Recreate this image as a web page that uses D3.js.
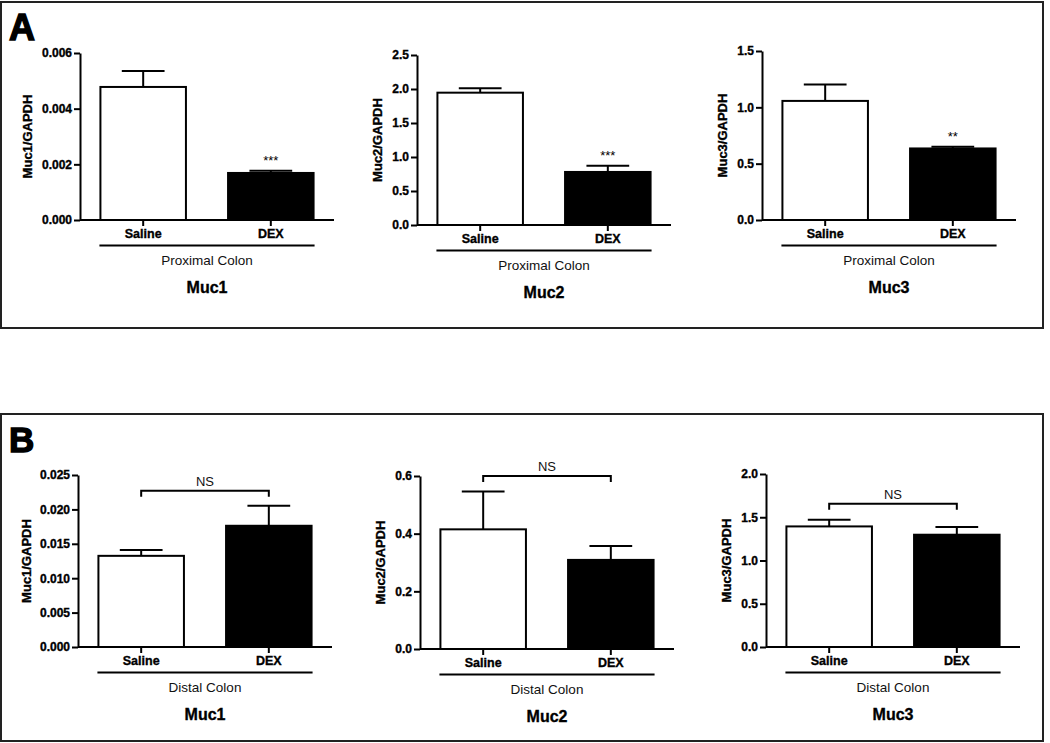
<!DOCTYPE html>
<html>
<head>
<meta charset="utf-8">
<script src="https://cdn.jsdelivr.net/npm/d3@7"></script>
<style>
  body { margin: 0; background: #fff; }
  svg { font-family: "Liberation Sans", Arial, sans-serif; }
</style>
</head>
<body>
<svg id="fig" width="1050" height="743"></svg>
<script>
// Data
const groups = ["Saline", "DEX"];
const genes = ["Muc1", "Muc2", "Muc3"];

const proximalMeans = [[0.00478, 0.00169], [1.946, 0.78], [1.057, 0.635]];
const proximalErrors = [[0.00057, 0.00008], [0.065, 0.09], [0.145, 0.015]];
const proximalMax = [0.006, 2.5, 1.5];
const proximalStep = [0.002, 0.5, 0.5];
const proximalSig = ["***", "***", "**"];

const distalMeans = [[0.01325, 0.01762], [0.415, 0.309], [1.394, 1.298]];
const distalErrors = [[0.00085, 0.0029], [0.131, 0.048], [0.076, 0.089]];
const distalMax = [0.025, 0.6, 2.0];
const distalStep = [0.005, 0.2, 0.5];
const distalBracket = [0.0227, 0.6, 1.657];

const tickFormats = [".3f", ".1f", ".1f"];

const svg = d3.select("#fig");

// Panel frames
svg.append("rect").attr("x", 1).attr("y", 2).attr("width", 1042).attr("height", 326)
  .attr("fill", "none").attr("stroke", "#222").attr("stroke-width", 2);
svg.append("rect").attr("x", 1).attr("y", 414).attr("width", 1042).attr("height", 327)
  .attr("fill", "none").attr("stroke", "#222").attr("stroke-width", 2);

svg.append("text").attr("x", 9).attr("y", 40).text("A")
  .attr("font-size", 36).attr("font-weight", "bold").attr("stroke", "#000").attr("stroke-width", 1.4);
svg.append("text").attr("x", 9).attr("y", 452).text("B")
  .attr("font-size", 35).attr("font-weight", "bold").attr("stroke", "#000").attr("stroke-width", 1.4);

// chart placement: left of y axis, top, bottom (y=0)
const proximalLayout = [
  { x: 80, top: 53, bottom: 220 },
  { x: 417, top: 55, bottom: 225 },
  { x: 762, top: 51, bottom: 220 }
];
const distalLayout = [
  { x: 78, top: 475, bottom: 647 },
  { x: 420, top: 476, bottom: 649 },
  { x: 766, top: 474, bottom: 647 }
];

function boldText(sel, size) {
  sel.attr("font-size", size).attr("font-weight", "bold")
    .attr("fill", "#000").attr("stroke", "#000").attr("stroke-width", 0.35)
    .attr("font-family", "Liberation Sans, Arial, sans-serif");
}

function drawChart(cfg) {
  const g = svg.append("g");
  const x = d3.scaleBand().domain(groups)
    .range([cfg.x, cfg.x + 254])
    .paddingInner(0.33).paddingOuter(0.16);
  const y = d3.scaleLinear().domain([0, cfg.max]).range([cfg.bottom, cfg.top]);
  const bw = x.bandwidth();

  // bars
  g.selectAll("rect.bar").data(groups).enter().append("rect")
    .attr("x", (d) => x(d))
    .attr("y", (d, i) => y(cfg.means[i]))
    .attr("width", bw)
    .attr("height", (d, i) => y(0) - y(cfg.means[i]))
    .attr("fill", (d, i) => (i === 0 ? "#fff" : "#000"))
    .attr("stroke", "#000").attr("stroke-width", 2);

  // error bars (upper only)
  const err = g.selectAll("g.err").data(groups).enter().append("g")
    .attr("stroke", "#000").attr("stroke-width", 2);
  err.append("line")
    .attr("x1", (d) => x(d) + bw / 2).attr("x2", (d) => x(d) + bw / 2)
    .attr("y1", (d, i) => y(cfg.means[i]))
    .attr("y2", (d, i) => y(cfg.means[i] + cfg.errors[i]));
  err.append("line")
    .attr("x1", (d) => x(d) + bw / 4).attr("x2", (d) => x(d) + bw * 0.75)
    .attr("y1", (d, i) => y(cfg.means[i] + cfg.errors[i]))
    .attr("y2", (d, i) => y(cfg.means[i] + cfg.errors[i]));

  // y axis
  const ticks = d3.range(0, cfg.max + cfg.step / 2, cfg.step);
  const yAxis = g.append("g").attr("transform", `translate(${cfg.x},0)`)
    .call(d3.axisLeft(y).tickValues(ticks).tickFormat(d3.format(cfg.fmt))
      .tickSize(6).tickPadding(2).tickSizeOuter(0));
  yAxis.selectAll("path, line").attr("stroke", "#000").attr("stroke-width", 2);
  boldText(yAxis.selectAll("text"), 12);

  // x axis
  const xAxis = g.append("g").attr("transform", `translate(0,${cfg.bottom})`)
    .call(d3.axisBottom(x).tickSize(6).tickPadding(3).tickSizeOuter(0));
  xAxis.select("path").attr("d", `M${cfg.x},0H${cfg.x + 254}`);
  xAxis.selectAll("path, line").attr("stroke", "#000").attr("stroke-width", 2);
  boldText(xAxis.selectAll("text"), 12.5);

  // y label
  const yl = g.append("text")
    .attr("transform", `translate(${cfg.x - cfg.labelOffset},${(cfg.top + cfg.bottom) / 2}) rotate(-90)`)
    .attr("text-anchor", "middle").attr("dy", "0.36em")
    .text(cfg.gene + "/GAPDH");
  boldText(yl, 13);

  // group line and captions
  const lx1 = x(groups[0]) - 1;
  const lx2 = x(groups[1]) + bw + 1;
  const mid = (lx1 + lx2) / 2;
  g.append("line").attr("x1", lx1).attr("x2", lx2)
    .attr("y1", cfg.bottom + 25.5).attr("y2", cfg.bottom + 25.5)
    .attr("stroke", "#000").attr("stroke-width", 2);
  g.append("text").attr("x", mid).attr("y", cfg.bottom + 45)
    .attr("text-anchor", "middle").attr("font-size", 13.5).attr("fill", "#111").text(cfg.region);
  const t = g.append("text").attr("x", mid).attr("y", cfg.bottom + 73)
    .attr("text-anchor", "middle").text(cfg.gene);
  boldText(t, 16);

  // significance
  if (cfg.sig) {
    const top = cfg.means[1] + cfg.errors[1];
    g.append("text").attr("x", x(groups[1]) + bw / 2).attr("y", y(top) - 6)
      .attr("text-anchor", "middle").attr("font-size", 13).attr("fill", "#000").text(cfg.sig);
  }
  if (cfg.bracket !== undefined) {
    const by = y(cfg.bracket);
    const c1 = x(groups[0]) + bw / 2;
    const c2 = x(groups[1]) + bw / 2;
    g.append("path")
      .attr("d", `M${c1},${by + 6}V${by}H${c2}V${by + 6}`)
      .attr("fill", "none").attr("stroke", "#000").attr("stroke-width", 2);
    g.append("text").attr("x", (c1 + c2) / 2).attr("y", by - 5)
      .attr("text-anchor", "middle").attr("font-size", 13).attr("fill", "#111").text("NS");
  }
}

genes.forEach((gene, i) => {
  drawChart({
    gene: gene, region: "Proximal Colon",
    means: proximalMeans[i], errors: proximalErrors[i],
    max: proximalMax[i], step: proximalStep[i], fmt: tickFormats[i],
    sig: proximalSig[i],
    labelOffset: tickFormats[i] === ".3f" ? 53 : 40,
    x: proximalLayout[i].x, top: proximalLayout[i].top, bottom: proximalLayout[i].bottom
  });
  drawChart({
    gene: gene, region: "Distal Colon",
    means: distalMeans[i], errors: distalErrors[i],
    max: distalMax[i], step: distalStep[i], fmt: tickFormats[i],
    bracket: distalBracket[i],
    labelOffset: tickFormats[i] === ".3f" ? 52 : 40,
    x: distalLayout[i].x, top: distalLayout[i].top, bottom: distalLayout[i].bottom
  });
});
</script>
</body>
</html>
